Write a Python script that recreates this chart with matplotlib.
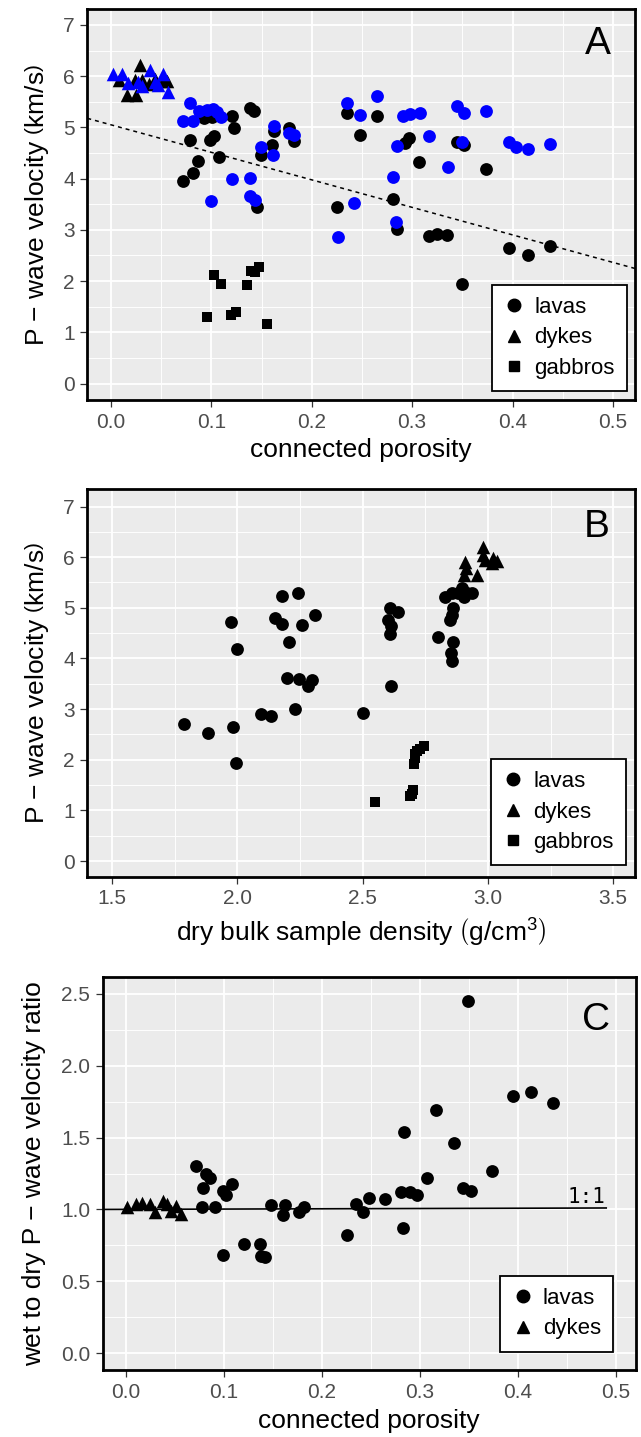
import matplotlib
matplotlib.use("Agg")
import matplotlib.pyplot as plt
from matplotlib.lines import Line2D
from matplotlib.ticker import FormatStrFormatter

plt.rcParams['font.family'] = ['Liberation Sans', 'DejaVu Sans']
plt.rcParams['mathtext.fontset'] = 'custom'
plt.rcParams['mathtext.rm'] = 'Liberation Sans'
plt.rcParams['mathtext.it'] = 'Liberation Sans:italic'

# ---- panel A: P-wave velocity vs connected porosity (black = dry, blue = wet)
lava_por_dry = [0.072, 0.082, 0.087, 0.079, 0.108, 0.099, 0.103, 0.093, 0.101, 0.121,
                0.123, 0.138, 0.142, 0.149, 0.145, 0.160, 0.162, 0.177, 0.182, 0.225,
                0.235, 0.248, 0.265, 0.281, 0.285, 0.293, 0.297, 0.307, 0.317, 0.325,
                0.335, 0.345, 0.352, 0.350, 0.374, 0.396, 0.415, 0.437]
lava_vp_dry = [3.96, 4.10, 4.35, 4.76, 4.43, 4.76, 4.83, 5.18, 5.20, 5.22,
               4.99, 5.37, 5.31, 4.46, 3.45, 4.66, 4.92, 4.98, 4.74, 3.45,
               5.29, 4.85, 5.23, 3.60, 3.01, 4.69, 4.79, 4.33, 2.88, 2.91,
               2.90, 4.72, 4.66, 1.94, 4.18, 2.64, 2.51, 2.69]
lava_por_wet = [0.079, 0.072, 0.082, 0.088, 0.096, 0.102, 0.106, 0.110, 0.162, 0.149,
                0.161, 0.177, 0.182, 0.121, 0.138, 0.100, 0.138, 0.143, 0.242, 0.235,
                0.248, 0.265, 0.291, 0.298, 0.308, 0.285, 0.317, 0.345, 0.352, 0.374,
                0.350, 0.396, 0.403, 0.415, 0.437, 0.336, 0.281, 0.284, 0.226]
lava_vp_wet = [5.48, 5.12, 5.12, 5.31, 5.33, 5.36, 5.30, 5.21, 5.03, 4.62,
               4.46, 4.90, 4.85, 3.99, 4.01, 3.57, 3.66, 3.58, 3.52, 5.47,
               5.24, 5.62, 5.22, 5.26, 5.28, 4.64, 4.84, 5.42, 5.28, 5.31,
               4.72, 4.72, 4.62, 4.57, 4.68, 4.22, 4.03, 3.16, 2.86]
dyke_por_dry = [0.008, 0.016, 0.025, 0.029, 0.024, 0.031, 0.038, 0.044, 0.052, 0.056]
dyke_vp_dry = [5.92, 5.64, 5.64, 6.21, 5.93, 5.93, 5.85, 5.95, 5.90, 5.90]
dyke_por_wet = [0.002, 0.011, 0.017, 0.027, 0.031, 0.039, 0.044, 0.047, 0.052, 0.057]
dyke_vp_wet = [6.04, 6.05, 5.86, 5.89, 5.80, 6.12, 5.89, 5.83, 6.04, 5.70]
gabbro_por = [0.103, 0.110, 0.135, 0.139, 0.143, 0.147, 0.096, 0.120, 0.125, 0.155]
gabbro_vp = [2.12, 1.94, 1.92, 2.20, 2.18, 2.28, 1.29, 1.34, 1.40, 1.16]
fit_intercept = 5.05
fit_slope = -5.37

# ---- panel B: P-wave velocity vs dry bulk density
lava_dens = [2.177, 2.243, 1.975, 2.150, 2.177, 2.257, 2.310, 2.207, 2.000, 2.197,
             2.246, 2.281, 2.299, 2.230, 2.093, 2.134, 1.785, 1.984, 1.882, 2.503,
             1.994, 2.829, 2.856, 2.882, 2.895, 2.915, 2.905, 2.935, 2.862, 2.858,
             2.849, 2.609, 2.643, 2.603, 2.613, 2.609, 2.802, 2.860, 2.853, 2.858,
             2.612]
lava_vp_b = [5.24, 5.29, 4.72, 4.79, 4.68, 4.66, 4.86, 4.33, 4.18, 3.62,
             3.59, 3.46, 3.58, 3.01, 2.90, 2.87, 2.70, 2.65, 2.53, 2.92,
             1.94, 5.21, 5.29, 5.30, 5.39, 5.29, 5.21, 5.29, 4.99, 4.86,
             4.76, 4.99, 4.91, 4.75, 4.65, 4.48, 4.43, 4.33, 4.11, 3.94,
             3.46]
dyke_dens = [2.909, 2.913, 2.905, 2.955, 2.982, 2.982, 2.990, 3.015, 3.022, 3.035]
dyke_vp_b = [5.91, 5.78, 5.65, 5.65, 6.21, 6.05, 5.95, 5.88, 5.98, 5.93]
gabbro_dens = [2.549, 2.688, 2.695, 2.700, 2.706, 2.708, 2.709, 2.715, 2.728, 2.743]
gabbro_vp_b = [1.17, 1.28, 1.33, 1.40, 1.92, 2.03, 2.12, 2.18, 2.22, 2.28]

# ---- panel C: wet/dry velocity ratio vs connected porosity
lava_por_c = [0.071, 0.082, 0.086, 0.079, 0.078, 0.091, 0.099, 0.102, 0.108, 0.099,
              0.120, 0.137, 0.138, 0.142, 0.148, 0.162, 0.160, 0.177, 0.182, 0.225,
              0.235, 0.242, 0.248, 0.264, 0.281, 0.290, 0.297, 0.283, 0.284, 0.307,
              0.316, 0.335, 0.344, 0.352, 0.349, 0.373, 0.395, 0.413, 0.436]
lava_ratio = [1.30, 1.25, 1.22, 1.15, 1.02, 1.02, 1.13, 1.10, 1.18, 0.68,
              0.76, 0.76, 0.675, 0.67, 1.03, 1.03, 0.96, 0.98, 1.02, 0.82,
              1.04, 0.98, 1.08, 1.07, 1.12, 1.12, 1.10, 0.87, 1.54, 1.22,
              1.69, 1.46, 1.15, 1.13, 2.45, 1.27, 1.79, 1.82, 1.74]
dyke_por_c = [0.001, 0.010, 0.016, 0.024, 0.030, 0.038, 0.042, 0.046, 0.051, 0.056]
dyke_ratio = [1.02, 1.035, 1.047, 1.04, 0.984, 1.06, 1.04, 0.99, 1.025, 0.968]

BLUE = '#0000FF'
W, H = 641, 1437


def box(l, r, t, b):
    return [l / W, 1 - b / H, (r - l) / W, (b - t) / H]


def style(ax, xlim, ylim, xmaj, xmin, ymaj, ymin, xfmt, yfmt):
    ax.set_facecolor('#EBEBEB')
    ax.set_xlim(xlim)
    ax.set_ylim(ylim)
    ax.set_xticks(xmaj)
    ax.set_xticks(xmin, minor=True)
    ax.set_yticks(ymaj)
    ax.set_yticks(ymin, minor=True)
    ax.xaxis.set_major_formatter(FormatStrFormatter(xfmt))
    ax.yaxis.set_major_formatter(FormatStrFormatter(yfmt))
    ax.grid(which='major', color='white', lw=1.3)
    ax.grid(which='minor', color='white', lw=0.65)
    ax.set_axisbelow(True)
    ax.tick_params(which='minor', length=0)
    ax.tick_params(which='major', length=5, width=0.9, color='#333333',
                   labelcolor='#4D4D4D', labelsize=15, pad=4)
    for s in ax.spines.values():
        s.set_linewidth(2)
        s.set_color('black')
        s.set_zorder(5)


def legend(ax, labels, anchor):
    shapes = {'lavas': ('o', 9), 'dykes': ('^', 9), 'gabbros': ('s', 7.5)}
    handles = [Line2D([], [], marker=shapes[k][0], markersize=shapes[k][1],
                      color='black', linestyle='none') for k in labels]
    leg = ax.legend(handles, labels, loc='lower right', bbox_to_anchor=anchor,
                    borderaxespad=0, fontsize=16, frameon=True, fancybox=False,
                    edgecolor='black', framealpha=1, handlelength=0.9,
                    handletextpad=0.45, borderpad=0.55, labelspacing=0.42)
    leg.get_frame().set_linewidth(1.3)
    leg.set_zorder(6)


fig = plt.figure(figsize=(W / 100, H / 100), dpi=100)

# panel A
axA = fig.add_axes(box(87.3, 635, 9, 400))
style(axA, (-0.0236, 0.522), (-0.32, 7.31),
      [0, 0.1, 0.2, 0.3, 0.4, 0.5], [0.05, 0.15, 0.25, 0.35, 0.45],
      range(0, 8), [0.5 + i for i in range(7)], '%.1f', '%d')
axA.scatter(gabbro_por, gabbro_vp, marker='s', s=60, c='black', lw=0, zorder=3)
axA.scatter(lava_por_dry, lava_vp_dry, marker='o', s=85, c='black', lw=0, zorder=3)
axA.scatter(dyke_por_dry, dyke_vp_dry, marker='^', s=95, c='black', lw=0, zorder=3)
axA.scatter(lava_por_wet, lava_vp_wet, marker='o', s=85, c=BLUE, lw=0, zorder=3)
axA.scatter(dyke_por_wet, dyke_vp_wet, marker='^', s=95, c=BLUE, lw=0, zorder=3)
xs = list(axA.get_xlim())
axA.plot(xs, [fit_intercept + fit_slope * x for x in xs], color='black', lw=1.1,
         ls=(0, (2.6, 2.6)), zorder=4)
axA.text(0.956, 0.885, 'A', transform=axA.transAxes, ha='right', va='baseline',
         fontsize=28)
legend(axA, ['lavas', 'dykes', 'gabbros'], (0.985, 0.023))

# panel B
axB = fig.add_axes(box(87.3, 635, 489.3, 876.7))
style(axB, (1.401, 3.587), (-0.31, 7.34),
      [1.5, 2.0, 2.5, 3.0, 3.5], [1.75, 2.25, 2.75, 3.25],
      range(0, 8), [0.5 + i for i in range(7)], '%.1f', '%d')
axB.scatter(gabbro_dens, gabbro_vp_b, marker='s', s=60, c='black', lw=0, zorder=3)
axB.scatter(lava_dens, lava_vp_b, marker='o', s=85, c='black', lw=0, zorder=3)
axB.scatter(dyke_dens, dyke_vp_b, marker='^', s=95, c='black', lw=0, zorder=3)
axB.text(0.953, 0.876, 'B', transform=axB.transAxes, ha='right', va='baseline',
         fontsize=28)
legend(axB, ['lavas', 'dykes', 'gabbros'], (0.983, 0.030))

# panel C
axC = fig.add_axes(box(102.7, 636, 977.3, 1370))
style(axC, (-0.0238, 0.5204), (-0.118, 2.616),
      [0, 0.1, 0.2, 0.3, 0.4, 0.5], [0.05, 0.15, 0.25, 0.35, 0.45],
      [0, 0.5, 1.0, 1.5, 2.0, 2.5], [0.25, 0.75, 1.25, 1.75, 2.25], '%.1f', '%.1f')
axC.plot([-0.0238, 0.49], [1.0, 1.01], color='black', lw=1.2, zorder=2.5)
axC.text(0.47, 1.045, '1:1', family='DejaVu Sans Mono', fontsize=15,
         ha='center', va='baseline')
axC.scatter(lava_por_c, lava_ratio, marker='o', s=85, c='black', lw=0, zorder=3)
axC.scatter(dyke_por_c, dyke_ratio, marker='^', s=95, c='black', lw=0, zorder=3)
axC.text(0.951, 0.866, 'C', transform=axC.transAxes, ha='right', va='baseline',
         fontsize=28)
legend(axC, ['lavas', 'dykes'], (0.957, 0.047))

# axis titles
vlab = r'P − wave velocity $\left(\mathrm{km/s}\right)$'
fig.text(44 / W, 1 - 204.5 / H, vlab, rotation=90, rotation_mode='anchor',
         ha='center', va='baseline', fontsize=19)
fig.text(44 / W, 1 - 683 / H, vlab, rotation=90, rotation_mode='anchor',
         ha='center', va='baseline', fontsize=19)
fig.text(41 / W, 1 - 1173.7 / H, 'wet to dry P − wave velocity ratio', rotation=90,
         rotation_mode='anchor', ha='center', va='baseline', fontsize=19)
fig.text(361 / W, 1 - 457 / H, 'connected porosity', ha='center', va='baseline',
         fontsize=19)
fig.text(361 / W, 1 - 941.7 / H,
         r'dry bulk sample density $\left(\mathrm{g/cm^{3}}\right)$',
         ha='center', va='baseline', fontsize=19)
fig.text(369.3 / W, 1 - 1428 / H, 'connected porosity', ha='center', va='baseline',
         fontsize=19)

fig.savefig('out.png', dpi=100)
